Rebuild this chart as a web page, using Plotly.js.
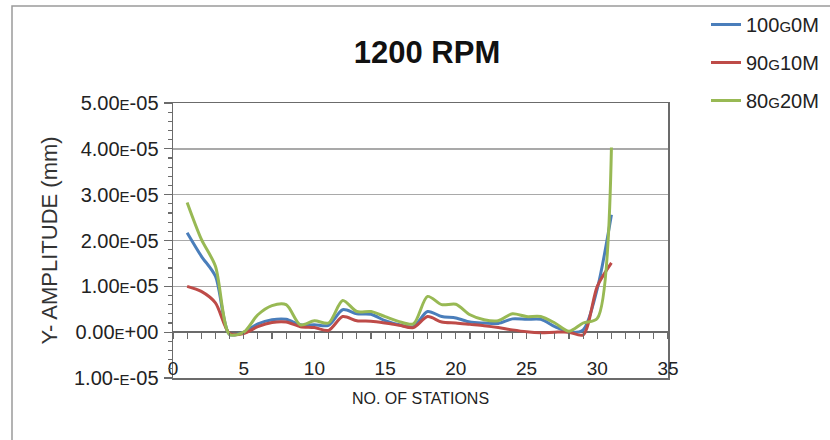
<!DOCTYPE html>
<html>
<head>
<meta charset="utf-8">
<script src="https://cdn.plot.ly/plotly-3.0.1.min.js"></script>
<style>html,body{margin:0;padding:0;background:#fff;}#chart{width:830px;height:440px;}</style>
</head>
<body>
<div id="chart"></div>
<script>
// Station numbers
const stations = [1,2,3,4,5,6,7,8,9,10,11,12,13,14,15,16,17,18,19,20,21,22,23,24,25,26,27,28,29,30,31];
// Y-amplitude (mm) per series
const s100G0M = [2.17e-5,1.66e-5,1.22e-5,-0.05e-5,0.0e-5,0.18e-5,0.27e-5,0.28e-5,0.16e-5,0.16e-5,0.15e-5,0.49e-5,0.40e-5,0.39e-5,0.25e-5,0.16e-5,0.12e-5,0.45e-5,0.34e-5,0.31e-5,0.22e-5,0.20e-5,0.19e-5,0.29e-5,0.28e-5,0.28e-5,0.12e-5,0.0e-5,0.05e-5,0.95e-5,2.56e-5];
const s90G10M = [1.00e-5,0.89e-5,0.64e-5,-0.03e-5,-0.03e-5,0.12e-5,0.21e-5,0.22e-5,0.12e-5,0.10e-5,0.04e-5,0.34e-5,0.25e-5,0.24e-5,0.20e-5,0.15e-5,0.10e-5,0.34e-5,0.22e-5,0.20e-5,0.17e-5,0.14e-5,0.10e-5,0.05e-5,0.01e-5,-0.01e-5,0.0e-5,0.0e-5,-0.06e-5,1.00e-5,1.51e-5];
const s80G20M = [2.83e-5,2.03e-5,1.44e-5,-0.05e-5,0.0e-5,0.38e-5,0.58e-5,0.60e-5,0.16e-5,0.25e-5,0.20e-5,0.69e-5,0.45e-5,0.45e-5,0.34e-5,0.23e-5,0.18e-5,0.78e-5,0.60e-5,0.61e-5,0.38e-5,0.27e-5,0.25e-5,0.40e-5,0.34e-5,0.34e-5,0.20e-5,0.02e-5,0.20e-5,0.30e-5,4.03e-5];
const seriesNames = ["100<span style='font-size:15px'>G</span>0M","90<span style='font-size:15px'>G</span>10M","80<span style='font-size:15px'>G</span>20M"];
const seriesColors = ["#4A7EBB","#BE4B48","#98B954"];
// Axis ticks
const yTickVals = [-1e-5,0,1e-5,2e-5,3e-5,4e-5,5e-5];
const yTickText = ["1.00-<span style='font-size:15px'>E</span>-05","0.00<span style='font-size:15px'>E</span>+00","1.00<span style='font-size:15px'>E</span>-05","2.00<span style='font-size:15px'>E</span>-05","3.00<span style='font-size:15px'>E</span>-05","4.00<span style='font-size:15px'>E</span>-05","5.00<span style='font-size:15px'>E</span>-05"];
const xTickVals = [0,5,10,15,20,25,30,35];
const xTickText = ["0","5","10","15","20","25","30","35"];

const seriesData = [s100G0M, s90G10M, s80G20M];
const traces = seriesData.map((ys, i) => ({
  x: stations, y: ys, type: 'scatter', mode: 'lines',
  name: seriesNames[i], legendgroup: 'g' + i,
  line: {color: seriesColors[i], width: 3, shape: 'spline', smoothing: 0.8},
  hoverinfo: 'x+y'
}));
// helper trace so the zero-line tick axis is drawn
traces.push({x: [], y: [], xaxis: 'x2', yaxis: 'y', showlegend: false, hoverinfo: 'skip', mode: 'lines'});

const regular = "Liberation Sans, Arial, sans-serif";

const layout = {
  width: 830, height: 440,
  margin: {l: 173, r: 162, t: 103, b: 62, autoexpand: false},
  paper_bgcolor: '#ffffff', plot_bgcolor: '#ffffff',
  title: {text: '<b>1200 RPM</b>', font: {family: regular, size: 31, color: '#111'}, x: 427/830, xanchor: 'center', y: 1 - 52/440, yanchor: 'middle'},
  showlegend: true,
  legend: {x: (824-173)/495, xanchor: 'right', y: (378-5)/275, yanchor: 'top',
    font: {family: regular, size: 20, color: '#222'}, tracegroupgap: 9, traceorder: 'grouped', bgcolor: 'rgba(0,0,0,0)'},
  xaxis: {
    range: [0, 35], tickmode: 'array', tickvals: xTickVals, ticktext: xTickText,
    ticks: '', ticklabelstandoff: -27, showline: true, linecolor: '#6b6b6b', linewidth: 1.5, mirror: true,
    showgrid: false, zeroline: false,
    tickfont: {family: regular, size: 19, color: '#222'},
    title: {text: 'NO. OF STATIONS', font: {family: regular, size: 16, color: '#222'}, standoff: 14},
    fixedrange: true, automargin: false
  },
  xaxis2: {
    overlaying: 'x', anchor: 'free', position: 1/6, range: [0, 35],
    tickmode: 'linear', tick0: 0, dtick: 1, ticks: 'outside', ticklen: 6, tickwidth: 1.2, tickcolor: '#6b6b6b',
    showticklabels: false, showline: false, showgrid: false, zeroline: false
  },
  yaxis: {
    range: [-1e-5, 5e-5], tickmode: 'array', tickvals: yTickVals, ticktext: yTickText,
    ticks: 'outside', ticklen: 8, tickwidth: 1.2, tickcolor: '#6b6b6b', ticklabelstandoff: 1,
    minor: {tickmode: 'linear', tick0: 0, dtick: 2e-6, ticks: 'outside', ticklen: 4, tickcolor: '#6b6b6b', showgrid: false},
    showline: true, linecolor: '#6b6b6b', linewidth: 1.5, mirror: true,
    showgrid: true, gridcolor: '#a9a9a9', gridwidth: 1.5,
    zeroline: true, zerolinecolor: '#6b6b6b', zerolinewidth: 1.5,
    tickfont: {family: regular, size: 20, color: '#222'},
    title: {text: 'Y- AMPLITUDE (mm)', font: {family: regular, size: 22, color: '#333'}, standoff: 10},
    fixedrange: true, automargin: false
  },
  shapes: [{type: 'rect', xref: 'paper', yref: 'paper',
    x0: (12-173)/495, x1: (845-173)/495, y0: (378-450)/275, y1: (378-6)/275,
    line: {color: '#9a9a9a', width: 1.5}, fillcolor: 'rgba(0,0,0,0)', layer: 'below'}]
};

Plotly.newPlot('chart', traces, layout, {displayModeBar: false, staticPlot: true});
</script>
</body>
</html>
